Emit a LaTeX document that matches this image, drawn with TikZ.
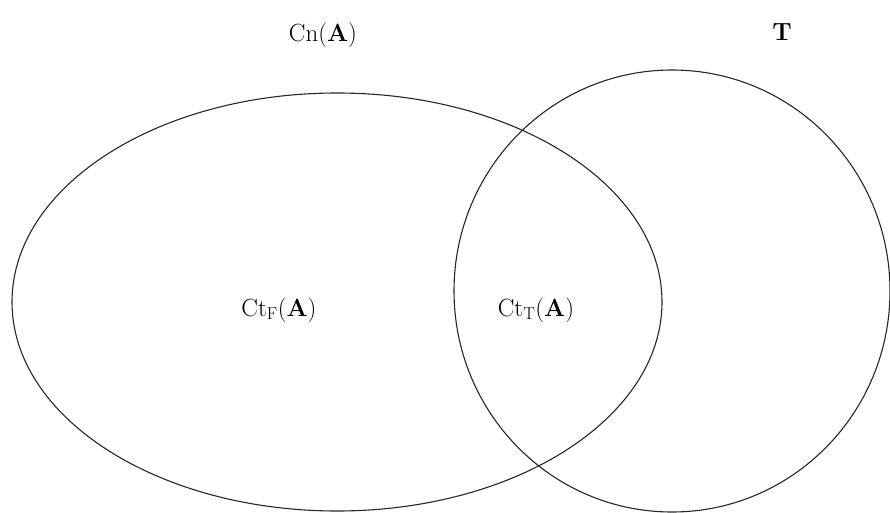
\documentclass[tikz,border=0pt]{standalone}
\begin{document}
\begin{tikzpicture}[x=1pt,y=-1pt,
  setline/.style={draw=black!85,line width=1.1pt},
  lbl/.style={inner sep=0pt,font=\fontsize{25.5}{30}\selectfont}]
\useasboundingbox (0,0) rectangle (890,513);
\begin{scope}
\clip (0,0) rectangle (890,513);
\draw[setline] (337,302) ellipse [x radius=325,y radius=209];
\draw[setline] (672,291) ellipse [x radius=218,y radius=221];
\end{scope}
\node[lbl,anchor=base] (cn) at (323,42) {$\mathrm{Cn}(\mathbf{A})$};
\node[lbl,anchor=base] (t) at (782,41) {$\mathbf{T}$};
\node[lbl,anchor=base] (ctf) at (279,316) {$\mathrm{Ct}_{\mathrm{F}}(\mathbf{A})$};
\node[lbl,anchor=base] (ctt) at (536,316) {$\mathrm{Ct}_{\mathrm{T}}(\mathbf{A})$};
\end{tikzpicture}
\end{document}
